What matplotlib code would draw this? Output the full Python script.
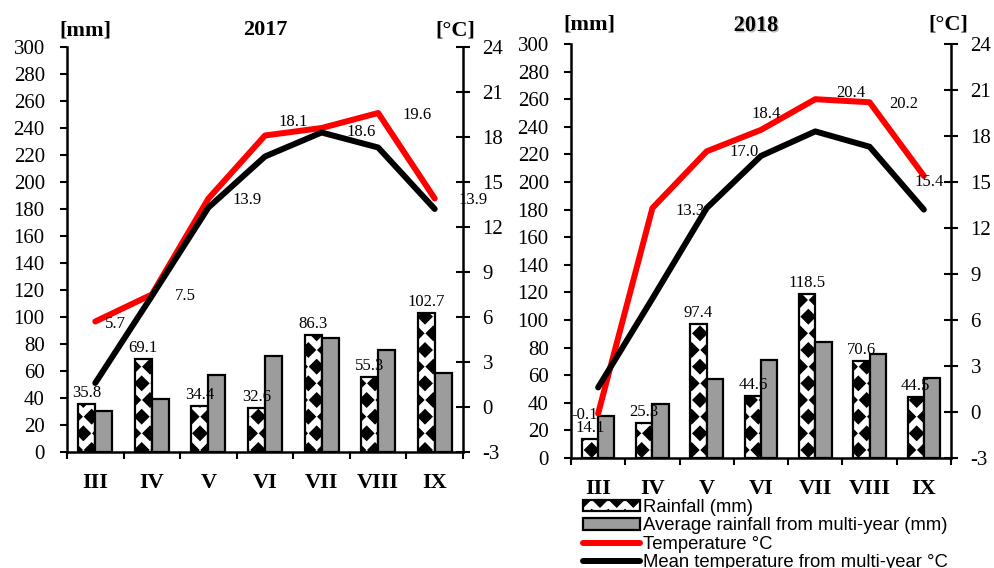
import matplotlib.pyplot as plt
import matplotlib.patheffects as pe
import matplotlib.hatch as mhatch
from matplotlib.path import Path
import numpy as np

months = ['III', 'IV', 'V', 'VI', 'VII', 'VIII', 'IX']
rain_2017 = [35.8, 69.1, 34.4, 32.6, 86.3, 55.3, 102.7]
rain_2018 = [14.1, 25.3, 97.4, 44.6, 118.5, 70.6, 44.5]
rain_avg = [30.4, 39.2, 57.2, 71.2, 84.3, 75.5, 58.3]
temp_2017 = [5.7, 7.5, 13.9, 18.1, 18.6, 19.6, 13.9]
temp_2018 = [-0.1, 13.3, 17.0, 18.4, 20.4, 20.2, 15.4]
temp_avg = [1.6, 7.4, 13.3, 16.7, 18.3, 17.3, 13.2]

# label offsets for the temperature values (pixels, left edge of text)
offs_2017 = [(10, -2), (23, -2), (24, -2), (13, 14), (25, -4), (24, -2), (24, -1)]
offs_2018 = [(-27, -1), (23, -3), (23, -1), (-10, 16), (21, 6), (20, -2), (-9, -6)]

SERIF = 'Liberation Serif'
BW = 0.3


# filled diamond pattern for the rainfall bars (takes the place of the '*' hatch)
class FilledDiamonds(mhatch.Shapes):
  size = 0.42
  filled = True

  def __init__(self, hatch, density):
    self.num_rows = hatch.count('*') * density
    path = Path.unit_regular_polygon(4)
    self.shape_vertices = path.vertices
    self.shape_codes = path.codes
    super().__init__(hatch, density)


mhatch._hatch_types[mhatch._hatch_types.index(mhatch.Stars)] = FilledDiamonds

plt.rcParams['font.family'] = SERIF
plt.rcParams['hatch.linewidth'] = 1.0
plt.rcParams['axes.unicode_minus'] = False


def draw_panel(ax, rain, temp, offs, title, title_dy):
  x = np.arange(len(months))
  b1 = ax.bar(x - BW/2, rain, BW, facecolor='white', edgecolor='black',
              linewidth=1.6, hatch='*', label='Rainfall (mm)')
  b2 = ax.bar(x + BW/2, rain_avg, BW, facecolor='#9c9c9c', edgecolor='black',
              linewidth=1.6, label='Average rainfall from multi-year (mm)')
  for xi, v in zip(x, rain):
    ax.annotate('{:.1f}'.format(v), xy=(xi - BW/2, v), xytext=(0, 3),
                textcoords='offset pixels', ha='center', va='bottom', fontsize=12)
  ax.set_xlim(-0.5, len(months) - 0.5)
  ax.set_ylim(0, 300)
  ax.set_yticks(np.arange(0, 301, 20))
  ax.set_xticks(x)
  ax.set_xticklabels(months, fontweight='bold', fontsize=16)
  ax.set_xticks(np.arange(-0.5, len(months), 1), minor=True)
  ax.tick_params(axis='x', which='major', length=0, pad=15)
  ax.tick_params(axis='x', which='minor', length=5, width=1.5, direction='out')
  ax.tick_params(axis='y', length=5, width=1.5, direction='out', pad=11, labelsize=15)
  for s in ['top', 'right']:
    ax.spines[s].set_visible(False)
  for s in ['left', 'bottom']:
    ax.spines[s].set_linewidth(1.8)

  ax2 = ax.twinx()
  l1, = ax2.plot(x, temp, color='#ff0000', lw=4.3, solid_capstyle='round',
                 solid_joinstyle='round', label='Temperature °C')
  l2, = ax2.plot(x, temp_avg, color='black', lw=4.3, solid_capstyle='round',
                 solid_joinstyle='round', label='Mean temperature from multi-year °C')
  for xi, v, o in zip(x, temp, offs):
    ax2.annotate('{:.1f}'.format(v), xy=(xi, v), xytext=o, textcoords='offset pixels',
                 ha='left', va='center', fontsize=12)
  ax2.set_ylim(-3, 24)
  ax2.set_yticks(np.arange(-3, 25, 3))
  ax2.tick_params(axis='y', length=10, width=1.5, direction='inout', pad=9, labelsize=15)
  for s in ['top', 'left', 'bottom']:
    ax2.spines[s].set_visible(False)
  ax2.spines['right'].set_linewidth(1.8)

  t = ax.annotate(title, xy=(0.5, 1.0), xycoords='axes fraction', xytext=title_dy,
                  textcoords='offset pixels', ha='center', va='center',
                  fontsize=16, fontweight='bold')
  return ax2, t, [b1, b2, l1, l2]


fig = plt.figure(figsize=(9.94, 5.68), dpi=100)
axA = fig.add_axes([67/994, 1 - 452/568, 396/994, 405/568])
axB = fig.add_axes([571/994, 1 - 458/568, 380/994, 414/568])

axA2, tA, _ = draw_panel(axA, rain_2017, temp_2017, offs_2017, '2017', (0, 17))
axB2, tB, handles = draw_panel(axB, rain_2018, temp_2018, offs_2018, '2018', (-5, 18))
tB.set_path_effects([pe.withSimplePatchShadow(offset=(1, -1), shadow_rgbFace='gray', alpha=0.5)])

for ax, dy in [(axA, 16), (axB, 20)]:
  ax.annotate('[mm]', xy=(0, 1), xycoords='axes fraction', xytext=(18, dy),
              textcoords='offset pixels', ha='center', va='center', fontsize=16, fontweight='bold')
axA.annotate('[°C]', xy=(1, 1), xycoords='axes fraction', xytext=(-8, 16),
             textcoords='offset pixels', ha='center', va='center', fontsize=16, fontweight='bold')
axB.annotate('[°C]', xy=(1, 1), xycoords='axes fraction', xytext=(-3, 20),
             textcoords='offset pixels', ha='center', va='center', fontsize=16, fontweight='bold')

fig.legend(handles=handles, loc='upper left', bbox_to_anchor=(583/994, 1 - 499/568),
           frameon=False, prop={'family': 'Liberation Sans', 'size': 13.3},
           handlelength=3.1, handleheight=0.6, handletextpad=0.15, labelspacing=0.08,
           borderpad=0, borderaxespad=0)

fig.savefig('out.png', dpi=100)
